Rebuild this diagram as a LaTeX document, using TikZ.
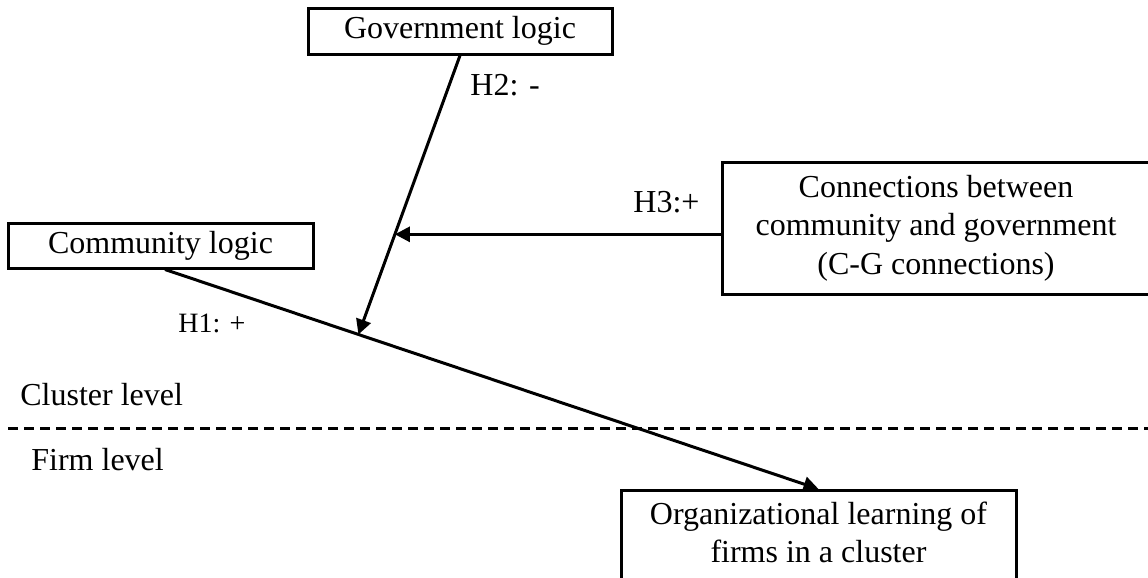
\documentclass[tikz,border=0pt]{standalone}
\usepackage{fontspec}
\setmainfont{Liberation Serif}
\usetikzlibrary{arrows.meta, positioning}

\begin{document}
\begin{tikzpicture}[
      x=0.5pt, y=-0.5pt,
      font=\fontsize{16}{19.2}\selectfont,
      box/.style={draw=black, line width=1.5pt, align=center, inner sep=0pt},
      arr/.style={-{Triangle[length=7.5pt, width=7.5pt]}, line width=1.5pt},
      lbl/.style={anchor=base west, inner sep=0pt},
      divider/.style={line width=1.5pt, dash pattern=on 5pt off 3pt}
    ]
    \useasboundingbox (0,0) rectangle (1148,578);
    \clip (0,0) rectangle (1148,578);

    \node[box, minimum width=152pt, minimum height=23pt] (gov) at (460,31)
    {Government logic};
    \node[box, minimum width=152.5pt, minimum height=22.5pt] (comm) at (160.5,245.5)
    {Community logic};
    \node[box, minimum width=214pt, minimum height=66pt] (conn) at (936,228)
    {Connections between\\community and government\\(C-G connections)};
    \node[box, anchor=north, minimum width=197.5pt, inner ysep=5.5pt] (org) at (818.5,489)
    {Organizational learning of\\firms in a cluster\rule[-14pt]{0pt}{0pt}};

    \node[lbl, font=\fontsize{14}{16.8}\selectfont] (h1) at (178,332) {H1: +};
    \node[lbl] (h2) at (470,95) {H2: -};
    \node[lbl] (h3) at (633,212) {H3:+};
    \node[lbl] (cluster) at (20,405) {Cluster level};
    \node[lbl] (firm) at (31,470) {Firm level};

    \draw[divider] (8,428) -- (1148,428);

    \draw[arr] ([xshift=2.25pt]comm.south) -- coordinate[pos=0.296] (m1) (org.north);
    \draw[arr] (gov.south) -- coordinate[pos=0.641] (m2) (m1);
    \draw[arr] (conn.west |- m2) -- (m2);
  \end{tikzpicture}
\end{document}
